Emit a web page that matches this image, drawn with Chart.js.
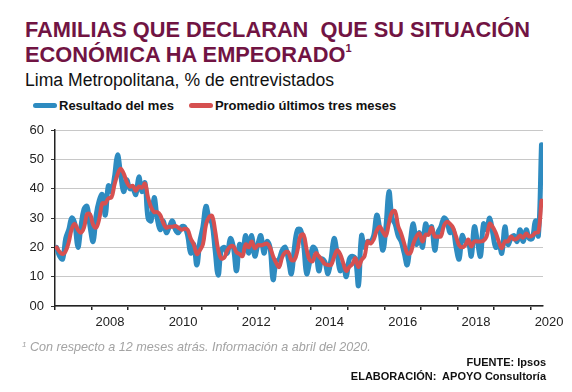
<!DOCTYPE html>
<html lang="es">
<head>
<meta charset="UTF-8">
<title>Situación económica</title>
<script src="https://cdn.jsdelivr.net/npm/chart.js"></script>
<style>
  body { margin: 0; width: 572px; height: 392px; background: #fff; position: relative; overflow: hidden;
         font-family: "Liberation Sans", Arial, sans-serif; color: #111; }
  canvas { position: absolute; left: 0; top: 0; }
  .titulo { position: absolute; left: 25px; top: 17px; font-size: 21.8px; font-weight: bold; color: #711443;
            line-height: 25px; white-space: nowrap; }
  .titulo sup { font-size: 11px; vertical-align: 10px; line-height: 0; }
  .subtitulo { position: absolute; left: 25px; top: 70px; font-size: 17.6px; line-height: 20px; white-space: nowrap; }
  .leyenda { position: absolute; left: 33px; top: 98px; font-size: 13px; font-weight: bold; display: flex; align-items: center; white-space: nowrap; }
  .leyenda .linea { display: inline-block; width: 24px; height: 5px; border-radius: 3px; margin-right: 2px; }
  .leyenda .item { display: flex; align-items: center; margin-right: 15px; }
  .nota { position: absolute; left: 22px; top: 340px; font-size: 12.6px; font-style: italic; color: #a3a3a3; white-space: nowrap; }
  .nota sup { font-size: 8px; vertical-align: 4px; line-height: 0; }
  .fuente { position: absolute; right: 26px; font-size: 11px; font-weight: bold; text-align: right; white-space: nowrap; }
</style>
</head>
<body>
  <div class="titulo">FAMILIAS QUE DECLARAN&nbsp; QUE SU SITUACIÓN<br>ECONÓMICA HA EMPEORADO<sup>1</sup></div>
  <div class="subtitulo">Lima Metropolitana, % de entrevistados</div>
  <div class="leyenda">
    <div class="item"><span class="linea" style="background:#2e8bc0"></span>Resultado del mes</div>
    <div class="item"><span class="linea" style="background:#d65050"></span>Promedio últimos tres meses</div>
  </div>
  <canvas id="graficoSituacion" width="572" height="392"></canvas>
  <div class="nota"><sup>1</sup> Con respecto a 12 meses atrás. Información a abril del 2020.</div>
  <div class="fuente" style="top:356px">FUENTE: Ipsos</div>
  <div class="fuente" style="top:370px">ELABORACIÓN:&nbsp; APOYO Consultoría</div>

<script>
    // meses desde enero 2007 hasta abril 2020
    const primerAnio = 2007;
    const ultimoAnio = 2020;

    const resultadoMes = [
        20, 17, 16, 23, 26, 30, 28, 20, 27, 33, 34, 27,
        22, 31, 36, 38, 31, 41, 39, 44, 51.5, 45, 39, 43,
        40, 40, 38, 44, 39, 42, 30, 29, 37, 30, 26, 29,
        25, 27, 29, 26, 25, 27, 27, 24, 18, 21, 14, 22,
        27, 34, 30, 28, 19, 10.5, 19, 20, 18, 23, 20, 12,
        21, 18, 24, 18, 24, 17, 21, 24, 18, 22, 20, 9,
        15, 16, 19, 20, 16, 11, 20, 26, 26, 21, 11, 15,
        20, 19, 12, 16, 15, 11, 16, 23, 18, 12, 14, 10,
        16, 17, 16, 7, 24, 20, 22, 22, 24, 31, 26, 19,
        27, 39, 30, 28, 24, 22, 18, 14, 22, 28, 21, 25,
        20, 28, 25, 27, 19, 25, 27, 30, 29, 25, 26, 20,
        16, 24, 22, 22, 17, 27, 22, 17, 28, 26, 30, 25,
        20, 21, 18, 27, 21, 23, 24, 22, 26, 22, 26, 23,
        23, 29, 24, 55
    ];

    const promedioTresMeses = [
        20, 18.5, 17.7, 18.7, 21.7, 26.3, 28, 26, 25, 26.7, 31.3, 31.3,
        27.7, 26.7, 29.7, 35, 35, 36.7, 37, 41.3, 44.8, 46.8, 45.2, 42.3,
        40.7, 41, 39.3, 40.7, 40.3, 41.7, 37, 33.7, 32, 32, 31, 28.3,
        26.7, 27, 27, 27.3, 26.7, 26, 26.3, 26, 23, 21, 17.7, 19,
        21, 27.7, 30.3, 30.7, 25.7, 19.2, 16.2, 16.5, 19, 20.3, 20.3, 18.3,
        17.7, 17, 21, 20, 22, 19.7, 20.7, 20.7, 21, 21.3, 20, 17,
        14.7, 13.3, 16.7, 18.3, 18.3, 15.7, 15.7, 19, 24, 24.3, 19.3, 15.7,
        15.3, 18, 17, 15.7, 14.3, 14, 14, 16.7, 19, 17.7, 14.7, 12,
        13.3, 14.3, 16.3, 13.3, 15.7, 17, 22, 21.3, 22.7, 25.7, 27, 25.3,
        24, 28.3, 32, 32.3, 27.3, 24.7, 21.3, 18, 18, 21.3, 23.7, 24.7,
        22, 24.3, 24.3, 26.7, 23.7, 23.7, 23.7, 27.3, 28.7, 28, 26.7, 23.7,
        20.7, 20, 20.7, 22.7, 20.3, 22, 22, 22, 22.3, 23.7, 28, 27,
        25, 22, 19.7, 22, 22, 23.7, 22.7, 23, 24, 23.3, 24.7, 23.7,
        24, 25, 25.3, 36
    ];

    const aniosEtiqueta = [2008, 2010, 2012, 2014, 2016, 2018, 2020];
    const ticksY = [0, 10, 20, 30, 40, 50, 60];
    const etiquetasY = ['00', '10', '20', '30', '40', '50', '60'];

    Chart.defaults.font.family = '"Liberation Sans", Arial, sans-serif';
    Chart.defaults.color = '#222';

    // cada mes ocupa una unidad en el eje x; el punto va al centro del mes
    function aPuntos(valores) {
        return valores.map(function (v, i) { return { x: i + 0.5, y: v }; });
    }

    const dados = {
        datasets: [{
            label: 'Promedio últimos tres meses',
            data: aPuntos(promedioTresMeses),
            borderColor: '#d65050',
            borderWidth: 4,
            tension: 0.4,
            order: 0
        },
        {
            label: 'Resultado del mes',
            data: aPuntos(resultadoMes),
            borderColor: '#2e8bc0',
            borderWidth: 5,
            tension: 0.4,
            order: 1
        }]
    };

    const config = {
        type: 'line',
        data: dados,
        options: {
            responsive: false,
            animation: false,
            layout: { padding: { left: 30, right: 29, top: 130, bottom: 61 } },
            elements: { point: { radius: 0 }, line: { borderCapStyle: 'round', borderJoinStyle: 'round' } },
            plugins: { legend: { display: false }, tooltip: { enabled: false } },
            scales: {
                x: {
                    type: 'linear',
                    min: 0,
                    max: resultadoMes.length,
                    bounds: 'data',
                    afterBuildTicks: function (scale) {
                        let ticks = [];
                        for (let a = primerAnio; a <= ultimoAnio; a++) {
                            ticks.push({ value: (a - primerAnio) * 12 });
                        }
                        aniosEtiqueta.forEach(function (a) {
                            ticks.push({ value: (a - primerAnio) * 12 + 6 });
                        });
                        ticks.sort(function (p, q) { return p.value - q.value; });
                        scale.ticks = ticks;
                    },
                    afterFit: function (scale) { scale.height = 25; },
                    grid: {
                        drawOnChartArea: false,
                        tickLength: 4,
                        lineWidth: 1.5,
                        tickColor: function (ctx) {
                            return ctx.tick && ctx.tick.value % 12 === 0 ? '#222' : 'rgba(0,0,0,0)';
                        }
                    },
                    border: { display: true, color: '#222', width: 1.5 },
                    ticks: {
                        autoSkip: false,
                        maxRotation: 0,
                        padding: 5,
                        font: { size: 13 },
                        callback: function (value) {
                            if (value % 12 !== 6) return '';
                            let anio = primerAnio + (value - 6) / 12;
                            return aniosEtiqueta.indexOf(anio) >= 0 ? String(anio) : '';
                        }
                    }
                },
                y: {
                    min: 0,
                    max: 60,
                    afterBuildTicks: function (scale) {
                        scale.ticks = ticksY.map(function (v) { return { value: v }; });
                    },
                    afterFit: function (scale) { scale.width = 25; },
                    grid: { color: '#c8c8c8', lineWidth: 1, tickColor: '#333', tickLength: 4 },
                    border: { display: true, color: '#222', width: 1.5 },
                    ticks: {
                        padding: 7,
                        font: { size: 13 },
                        callback: function (value, index) { return etiquetasY[index]; }
                    }
                }
            }
        }
    };

    let graficoSituacion = new Chart(
        document.getElementById('graficoSituacion'),
        config
    );
</script>
</body>
</html>
